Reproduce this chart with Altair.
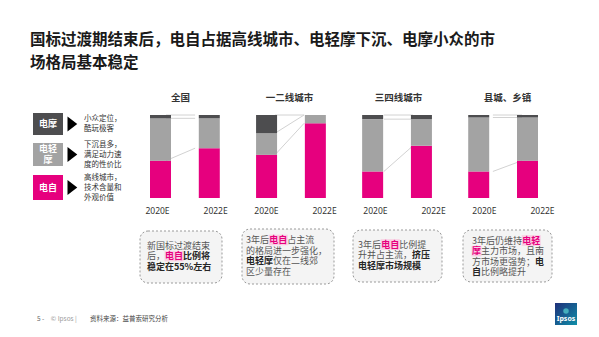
import altair as alt
import pandas as pd

# ---------------- data ----------------
panels = ["全国", "一二线城市", "三四线城市", "县城、乡镇"]
years = ["2020E", "2022E"]
e_bike = [[45, 60], [52, 90], [32, 63], [32, 45]]        # 电自
light_moto = [[51, 36], [26, 10], [63, 32], [65, 52]]    # 电轻摩
e_moto = [[4, 4], [22, 0], [5, 5], [3, 3]]               # 电摩
segment_names = ["电自", "电轻摩", "电摩"]
segment_colors = ["#E6007E", "#A3A3A3", "#4D4D4F"]

title_lines = ["国标过渡期结束后，电自占据高线城市、电轻摩下沉、电摩小众的市", "场格局基本稳定"]

legend_labels = [["电摩"], ["电轻", "摩"], ["电自"]]
legend_fill = ["#4D4D4F", "#A3A3A3", "#E6007E"]
legend_desc = [["小众定位，", "酷玩极客"],
               ["下沉县多，", "满足动力速", "度的性价比"],
               ["高线城市，", "技术含量和", "外观价值"]]

# n = normal, b = bold, p = pink highlight
notes = [
    [[("新国标过渡结束", "n")], [("后，", "n"), ("电自", "p"), ("比例将", "b")], [("稳定在55%左右", "b")]],
    [[("3年后", "n"), ("电自", "p"), ("占主流", "n")], [("的格局进一步强化，", "n")],
     [("电轻摩", "b"), ("仅在二线郊", "n")], [("区少量存在", "n")]],
    [[("3年后", "n"), ("电自", "p"), ("比例提", "n")], [("升并占主流，", "n"), ("挤压", "b")], [("电轻摩市场规模", "b")]],
    [[("3年后仍维持", "n"), ("电轻", "p")], [("摩", "p"), ("主力市场，且南", "n")],
     [("方市场更强势；", "n"), ("电", "b")], [("自", "b"), ("比例略提升", "n")]],
]
footer = [("5 -", "#666666"), ("© Ipsos |", "#9a9a9a"), ("资料来源：益普索研究分析", "#444444")]

# ---------------- layout ----------------
FONT = "Noto Sans CJK SC"
W, H = 599, 337
BAR_W = 21
OFF = 0.23
XR = [155.5, 532.5]
xs = alt.Scale(domain=[-OFF, 3 + OFF], range=XR, nice=False, zero=False)
ys = alt.Scale(domain=[0, 100], range=[198, 115], nice=False, zero=False)
half = (BAR_W / 2) / ((XR[1] - XR[0]) / (3 + 2 * OFF))

def cw(ch, fs):
    if ord(ch) < 128:
        return fs * (0.9 if ch == "%" else 0.58)
    return fs

def tw(s, fs):
    return sum(cw(c, fs) for c in s)

# bars
rows = []
for p in range(4):
    for b in range(2):
        pos = p + (b - 0.5) * 2 * OFF
        vals = [e_bike[p][b], light_moto[p][b], e_moto[p][b]]
        lo = 0
        for s, v in zip(segment_names, vals):
            rows.append(dict(pos=pos, lo=lo, hi=lo + v, seg=s, year=years[b]))
            lo += v
bar_df = pd.DataFrame(rows)

# connectors
crow = []
for p in range(4):
    b1 = [e_bike[p][0], e_bike[p][0] + light_moto[p][0], 100]
    b2 = [e_bike[p][1], e_bike[p][1] + light_moto[p][1], 100]
    for a, c in zip(b1, b2):
        crow.append(dict(x1=p - OFF + half, x2=p + OFF - half, y1=a, y2=c))
conn_df = pd.DataFrame(crow)

ptitle_df = pd.DataFrame(dict(pos=list(range(4)), name=panels))
year_df = pd.DataFrame([dict(pos=p + (b - 0.5) * 2 * OFF, year=years[b])
                        for p in range(4) for b in range(2)])

bars = alt.Chart(bar_df).mark_bar(size=BAR_W).encode(
    x=alt.X("pos:Q", scale=xs, axis=None),
    y=alt.Y("lo:Q", scale=ys, axis=None),
    y2="hi:Q",
    color=alt.Color("seg:N", scale=alt.Scale(domain=segment_names, range=segment_colors), legend=None),
)
conns = alt.Chart(conn_df).mark_rule(color="#d2d2d2", strokeWidth=1).encode(
    x=alt.X("x1:Q", scale=xs, axis=None), x2="x2:Q",
    y=alt.Y("y1:Q", scale=ys, axis=None), y2="y2:Q",
)
ptitles = alt.Chart(ptitle_df).mark_text(font=FONT, fontSize=9.5, fontWeight="bold", color="#333333").encode(
    x=alt.X("pos:Q", scale=xs, axis=None), y=alt.value(98), text="name:N")
ylab0 = alt.Chart(year_df).transform_filter(alt.datum.year == "2020E").mark_text(
    font="Noto Sans", fontSize=8.5, color="#333333", dx=2).encode(
    x=alt.X("pos:Q", scale=xs, axis=None), y=alt.value(211), text="year:N")
ylab1 = alt.Chart(year_df).transform_filter(alt.datum.year == "2022E").mark_text(
    font="Noto Sans", fontSize=8.5, color="#333333", dx=10).encode(
    x=alt.X("pos:Q", scale=xs, axis=None), y=alt.value(211), text="year:N")

# title
title_df = pd.DataFrame(dict(x=[30, 30], y=[40, 63], t=title_lines))
title = alt.Chart(title_df).mark_text(font=FONT, fontSize=15.5, fontWeight="bold", color="#1a1a1a",
                                      align="left", baseline="middle").encode(
    x=alt.X("x:Q", scale=None), y=alt.Y("y:Q", scale=None), text="t:N")

# legend
lg_box = pd.DataFrame(dict(x=[33] * 3, x2=[63] * 3, y=[113, 143, 175], y2=[135, 166, 200], c=legend_fill))
lg_rect = alt.Chart(lg_box).mark_rect().encode(
    x=alt.X("x:Q", scale=None), x2="x2:Q", y=alt.Y("y:Q", scale=None), y2="y2:Q",
    color=alt.Color("c:N", scale=None))
lab_rows = []
for i, lines in enumerate(legend_labels):
    cy = (lg_box.y[i] + lg_box.y2[i]) / 2
    n = len(lines)
    for j, t in enumerate(lines):
        lab_rows.append(dict(x=48, y=cy + (j - (n - 1) / 2) * 11, t=t))
lg_lab = alt.Chart(pd.DataFrame(lab_rows)).mark_text(font=FONT, fontSize=9, fontWeight="bold", color="white",
                                                     baseline="middle").encode(
    x=alt.X("x:Q", scale=None), y=alt.Y("y:Q", scale=None), text="t:N")
tri_df = pd.DataFrame(dict(x=[72] * 3, y=[(a + b) / 2 for a, b in zip(lg_box.y, lg_box.y2)]))
tri = alt.Chart(tri_df).mark_point(shape="M-0.6,-1L0.7,0L-0.6,1Z", filled=True, opacity=1,
                                   color="#000000", size=225).encode(
    x=alt.X("x:Q", scale=None), y=alt.Y("y:Q", scale=None))
desc_rows = []
for i, lines in enumerate(legend_desc):
    cy = (lg_box.y[i] + lg_box.y2[i]) / 2
    n = len(lines)
    for j, t in enumerate(lines):
        desc_rows.append(dict(x=84, y=cy + (j - (n - 1) / 2) * 10, t=t))
lg_desc = alt.Chart(pd.DataFrame(desc_rows)).mark_text(font=FONT, fontSize=7.5, color="#333333",
                                                       align="left", baseline="middle").encode(
    x=alt.X("x:Q", scale=None), y=alt.Y("y:Q", scale=None), text="t:N")

# note boxes
box_df = pd.DataFrame(dict(x=[140, 242, 353, 463], x2=[222, 334, 442, 552],
                           y=[231, 229, 230, 230], y2=[283, 284, 282, 282]))
boxes = alt.Chart(box_df).mark_rect(fill="#f4f4f4", stroke="#9a9a9a", strokeDash=[2, 2], strokeWidth=1,
                                    cornerRadius=8).encode(
    x=alt.X("x:Q", scale=None), x2="x2:Q", y=alt.Y("y:Q", scale=None), y2="y2:Q")

NFS = 9
starts_x = [147, 246, 358, 472]
starts_y = [245.5, 240, 244.5, 240.5]
LS = 10.6
seg_rows, hl_rows = [], []
for k, lines in enumerate(notes):
    for j, line in enumerate(lines):
        x = starts_x[k]
        y = starts_y[k] + j * LS
        for text, kind in line:
            w = tw(text, NFS)
            seg_rows.append(dict(x=x, y=y, t=text, kind=kind))
            if kind == "p":
                hl_rows.append(dict(x=x - 0.5, x2=x + w + 0.5, y=y - 5.3, y2=y + 5.3))
            x += w
seg_df = pd.DataFrame(seg_rows)
hl = alt.Chart(pd.DataFrame(hl_rows)).mark_rect(fill="#f9cfe3").encode(
    x=alt.X("x:Q", scale=None), x2="x2:Q", y=alt.Y("y:Q", scale=None), y2="y2:Q")

def seg_layer(kind, color, weight):
    return alt.Chart(seg_df).transform_filter(alt.datum.kind == kind).mark_text(
        font=FONT, fontSize=NFS, color=color, fontWeight=weight, align="left", baseline="middle").encode(
        x=alt.X("x:Q", scale=None), y=alt.Y("y:Q", scale=None), text="t:N")

seg_n = seg_layer("n", "#555555", "normal")
seg_b = seg_layer("b", "#262626", "bold")
seg_p = seg_layer("p", "#E6007E", "bold")

# footer
FFS = 6.5
fx = 37
frows = []
for t, c in footer:
    frows.append(dict(x=fx, y=319, t=t, c=c))
    fx += tw(t, FFS) + 2.5
foot = alt.Chart(pd.DataFrame(frows)).mark_text(font=FONT, fontSize=FFS, align="left", baseline="middle").encode(
    x=alt.X("x:Q", scale=None), y=alt.Y("y:Q", scale=None), text="t:N", color=alt.Color("c:N", scale=None))

# logo
one = pd.DataFrame(dict(k=[0]))
logo = alt.Chart(one).mark_rect(
    color=alt.Gradient(gradient="linear", x1=0, y1=0, x2=1, y2=1,
                       stops=[alt.GradientStop(color="#1f2f7a", offset=0),
                              alt.GradientStop(color="#0f8fa8", offset=1)])).encode(
    x=alt.value(555), x2=alt.value(577), y=alt.value(303), y2=alt.value(325))
logo_head = alt.Chart(one).mark_point(filled=True, color="#4fc3c8", opacity=0.8, size=30, shape="circle").encode(
    x=alt.value(566), y=alt.value(311))
logo_txt = alt.Chart(one).mark_text(text="Ipsos", font="Noto Sans", fontSize=7, fontWeight="bold",
                                    color="white", baseline="middle").encode(
    x=alt.value(566), y=alt.value(319))

chart = alt.layer(
    title, conns, bars, ptitles, ylab0, ylab1,
    lg_rect, lg_lab, tri, lg_desc,
    boxes, hl, seg_n, seg_b, seg_p,
    foot, logo, logo_head, logo_txt,
).resolve_scale(x="independent", y="independent", color="independent").properties(
    width=W, height=H, autosize=alt.AutoSizeParams(type="none"), padding=0, background="white"
).configure_view(stroke=None)

chart.save("out.html", embed_options={"renderer": "svg", "actions": False})
